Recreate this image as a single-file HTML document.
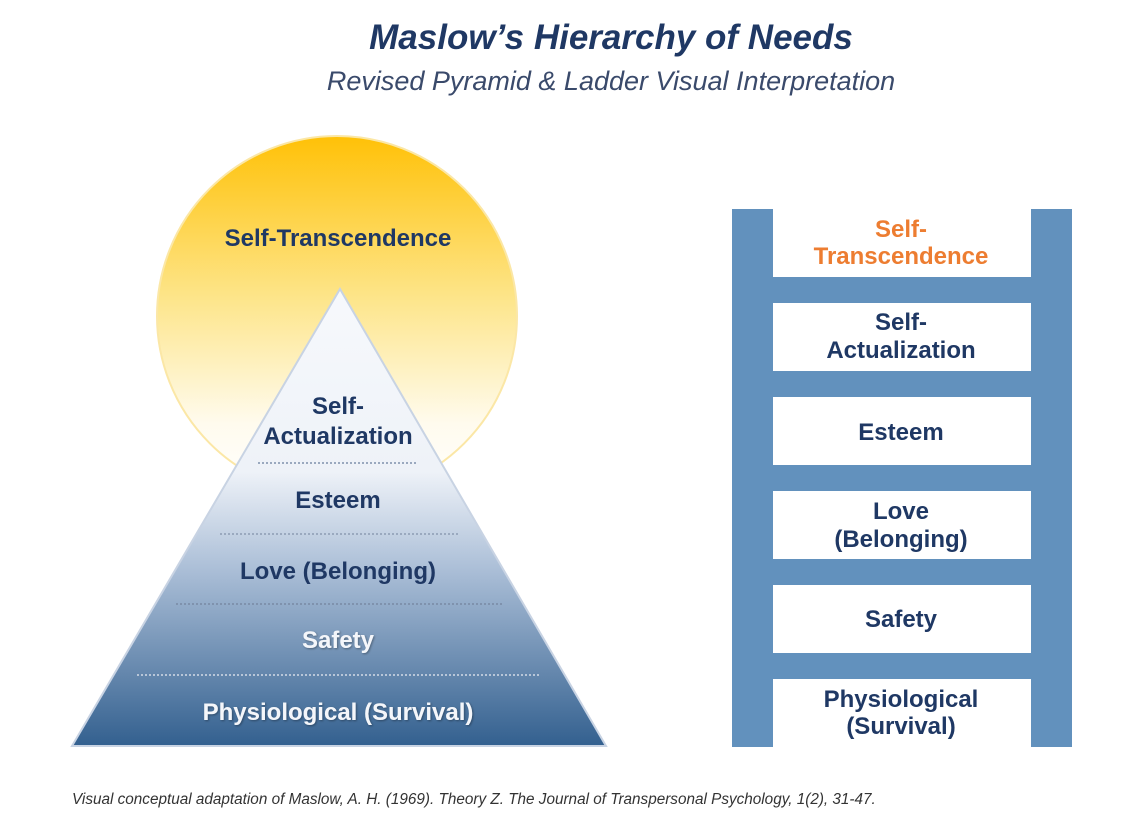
<!DOCTYPE html>
<html><head><meta charset="utf-8"><style>
body{margin:0;width:1140px;height:819px;background:#fff;overflow:hidden;font-family:"Liberation Sans",sans-serif}
</style></head><body>
<svg width="1140" height="819" xmlns="http://www.w3.org/2000/svg" font-family="Liberation Sans, sans-serif">
<defs>
<linearGradient id="sun" x1="0" y1="0" x2="0" y2="1">
<stop offset="0" stop-color="#ffc107"/><stop offset="0.45" stop-color="#fde58a"/><stop offset="0.8" stop-color="#fffbee"/><stop offset="1" stop-color="#ffffff"/>
</linearGradient>
<linearGradient id="pyr" x1="0" y1="0" x2="0" y2="1">
<stop offset="0" stop-color="#f7f9fc"/><stop offset="0.4" stop-color="#eef2f8"/><stop offset="0.62" stop-color="#a9bdd6"/><stop offset="1" stop-color="#33608f"/>
</linearGradient>
<filter id="sh"><feDropShadow dx="1" dy="1" stdDeviation="1" flood-color="#000" flood-opacity="0.35"/></filter>
</defs>
<text x="611" y="49" text-anchor="middle" font-size="35" font-weight="bold" font-style="italic" fill="#1f3864">Maslow’s Hierarchy of Needs</text>
<text x="611" y="90" text-anchor="middle" font-size="27" font-style="italic" fill="#3a4a6b">Revised Pyramid &amp; Ladder Visual Interpretation</text>
<circle cx="337" cy="316" r="180" fill="url(#sun)" stroke="#fbe7a6" stroke-width="2"/>
<polygon points="340,289 606,746 72,746" fill="url(#pyr)" stroke="#c8d3e3" stroke-width="2"/>
<g stroke-width="2" stroke-dasharray="2,2">
<line x1="258" y1="463" x2="416" y2="463" stroke="#9aa9bf"/><line x1="220" y1="534" x2="458" y2="534" stroke="#9aa9bf"/>
<line x1="176" y1="604" x2="502" y2="604" stroke="#7f92ad"/><line x1="137" y1="675" x2="541" y2="675" stroke="#b8c6d8"/>
</g>
<g font-weight="bold" font-size="24" text-anchor="middle" fill="#1f3864">
<text x="338" y="246">Self-Transcendence</text>
<text x="338" y="414">Self-</text>
<text x="338" y="444">Actualization</text>
<text x="338" y="508">Esteem</text>
<text x="338" y="579">Love (Belonging)</text>
<text x="338" y="648" fill="#f4f6fa" filter="url(#sh)">Safety</text>
<text x="338" y="720" fill="#f4f6fa" filter="url(#sh)">Physiological (Survival)</text>
</g>
<g fill="#6291bd">
<rect x="732" y="209" width="41" height="538"/><rect x="1031" y="209" width="41" height="538"/>
<rect x="773" y="277" width="258" height="26"/><rect x="773" y="371" width="258" height="26"/>
<rect x="773" y="465" width="258" height="26"/><rect x="773" y="559" width="258" height="26"/>
<rect x="773" y="653" width="258" height="26"/>
</g>
<g font-weight="bold" font-size="24" text-anchor="middle" fill="#1f3864">
<text x="901" y="237" fill="#ed7d31">Self-</text>
<text x="901" y="264" fill="#ed7d31">Transcendence</text>
<text x="901" y="330">Self-</text>
<text x="901" y="358">Actualization</text>
<text x="901" y="440">Esteem</text>
<text x="901" y="519">Love</text>
<text x="901" y="547">(Belonging)</text>
<text x="901" y="627">Safety</text>
<text x="901" y="707">Physiological</text>
<text x="901" y="734">(Survival)</text>
</g>
<text x="72" y="804" font-size="15.3" font-style="italic" fill="#333">Visual conceptual adaptation of Maslow, A. H. (1969). Theory Z. The Journal of Transpersonal Psychology, 1(2), 31-47.</text>
</svg>
</body></html>
